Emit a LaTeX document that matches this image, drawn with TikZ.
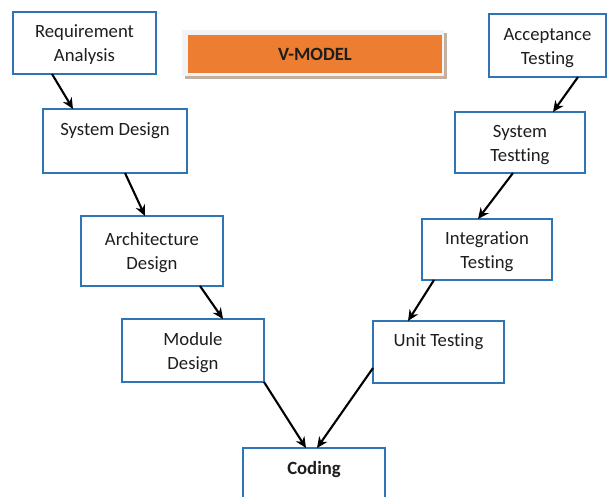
\documentclass[tikz,border=0pt]{standalone}
\usepackage{fontspec}
\setmainfont[Ligatures = NoCommon]{Carlito}
\usetikzlibrary{arrows.meta}

\definecolor{stageblue}{RGB}{46,117,182}
\definecolor{bannerorange}{RGB}{237,125,49}
\definecolor{bannershadow}{RGB}{196,176,160}
\definecolor{bannerframe}{RGB}{242,243,246}
\definecolor{textgray}{RGB}{30,30,30}

\newcommand{\twolines}[2]{\rule{0pt}{20.8pt}#1\\\strut#2}

\tikzset{
	stage/.style = {draw = stageblue, line width = 2.9pt, fill = white, anchor = north west, outer sep = 0pt, inner sep = 2pt, align = center, text = textgray, font = \fontsize{18.7}{24}\selectfont},
	flow/.style = {line width = 2.1pt, -{Stealth[length = 11pt, width = 10pt]}}
}

\begin{document}
\begin{tikzpicture}[x = 1pt, y = -1pt]
	 \clip (0, 0) rectangle (610, 497);
	 \fill[white] (0, 0) rectangle (610, 497);

	 \fill[bannershadow] (185, 33) rectangle (447, 79);
	 \fill[bannerframe] (182, 30) rectangle (444, 76);
	 \node[fill = bannerorange, anchor = north west, outer sep = 0pt, minimum width = 254, minimum height = 38, text = textgray, font = \fontsize{18.7}{22}\selectfont\bfseries] (title) at (188, 35) {V-MODEL};

	 \node[stage, minimum width = 143, minimum height = 62] (req) at (13, 12) {\twolines{Requirement}{Analysis}};
	 \node[stage, minimum width = 144, minimum height = 64] (sysd) at (43, 109) {\twolines{System Design}{}};
	 \node[stage, minimum width = 142, minimum height = 70] (arch) at (81, 216) {\twolines{Architecture}{Design}};
	 \node[stage, minimum width = 142, minimum height = 63] (mod) at (122, 319) {\twolines{Module}{Design}};
	 \node[stage, minimum width = 142, minimum height = 64, font = \fontsize{18.7}{24}\selectfont\bfseries] (code) at (243, 448) {\twolines{Coding}{}};
	 \node[stage, minimum width = 131, minimum height = 62] (unit) at (373, 321) {\twolines{Unit Testing}{}};
	 \node[stage, minimum width = 130, minimum height = 61] (integ) at (422, 219) {\twolines{Integration}{Testing}};
	 \node[stage, minimum width = 130, minimum height = 61] (syst) at (455, 112) {\twolines{System}{Testting}};
	 \node[stage, minimum width = 117, minimum height = 63] (accept) at (489, 14) {\twolines{Acceptance}{Testing}};

	 \draw[flow] ([xshift = 39pt]req.south west) -- ([xshift = 30pt]sysd.north west);
	 \draw[flow] ([xshift = 82pt]sysd.south west) -- ([xshift = 64pt]arch.north west);
	 \draw[flow] ([xshift = 119pt]arch.south west) -- ([xshift = 101pt]mod.north west);
	 \draw[flow] (mod.south east) -- ([xshift = 63pt]code.north west);
	 \draw[flow] ([yshift = 15pt]unit.south west) -- ([xshift = 74pt]code.north west);
	 \draw[flow] ([xshift = 12pt]integ.south west) -- ([xshift = 35pt]unit.north west);
	 \draw[flow] ([xshift = 58pt]syst.south west) -- ([xshift = 56pt]integ.north west);
	 \draw[flow] ([xshift = 89pt]accept.south west) -- ([xshift = 98pt]syst.north west);
\end{tikzpicture}
\end{document}
